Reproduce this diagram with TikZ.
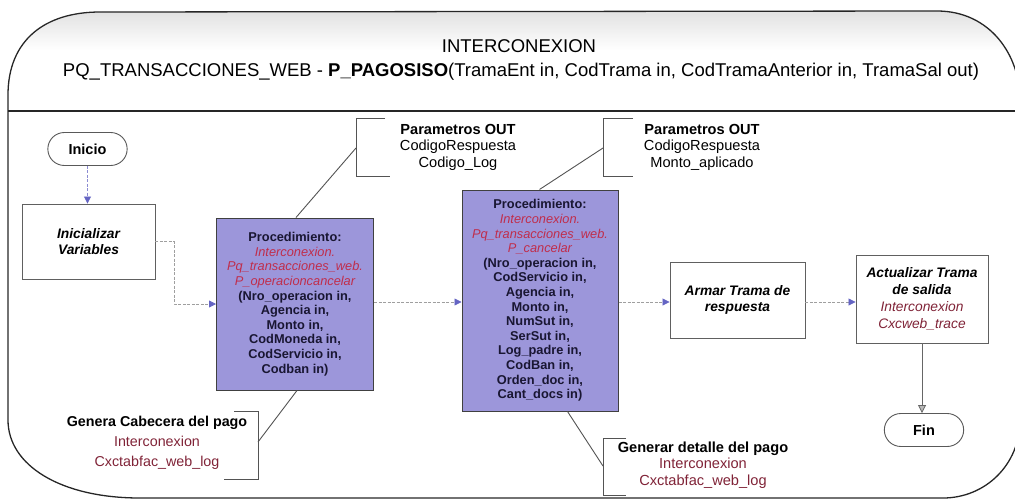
\documentclass[tikz,border=0pt]{standalone}
\usepackage{fontspec}
\setmainfont{Liberation Sans}
\usetikzlibrary{arrows.meta,shapes.misc,shadows}
\definecolor{pfill}{RGB}{156,150,218}
\definecolor{pred}{RGB}{192,45,75}
\definecolor{maroonc}{RGB}{128,35,55}
\definecolor{ptext}{RGB}{25,22,50}
\definecolor{arrc}{RGB}{100,100,195}
\newcommand\fsTitle{\fontsize{18.5}{22}\selectfont}
\newcommand\fsP{\fontsize{12.8}{14.6}\selectfont}
\newcommand\fsC{\fontsize{14.6}{16.5}\selectfont}
\newcommand\fsB{\fontsize{13.8}{16.8}\selectfont}
\begin{document}
\begin{tikzpicture}[x=1pt,y=-1pt,
 framel/.style={draw=black!85,line width=1.3pt},
 wbox/.style={draw=gray!75!black,line width=0.9pt,fill=white,inner sep=2pt,align=center,font=\fsB\bfseries\itshape,drop shadow={shadow xshift=1.3pt,shadow yshift=-1.3pt,fill=gray!55,opacity=1}},
 term/.style={rounded rectangle,draw=gray!70!black,line width=0.9pt,fill=white,minimum width=86pt,minimum height=33pt,font=\fontsize{14.5}{16}\selectfont\bfseries},
 pbox/.style={draw=gray!50!black,line width=1pt,fill=pfill,align=center,inner sep=0pt,text=ptext,font=\fsP\bfseries},
 ctext/.style={align=center,inner sep=0pt,font=\fsC},
 brk/.style={draw=gray!65!black,line width=0.9pt},
 dconn/.style={draw=gray!75,line width=0.8pt,dash pattern=on 3pt off 1.5pt},
 arr/.style={-{Triangle[length=7pt,width=7pt,color=arrc]}},
 sconn/.style={draw=gray!80!black,line width=0.8pt,-{Triangle[length=8pt,width=8pt,fill=gray!55,color=gray!80!black]}}
]
\useasboundingbox (0,0) rectangle (1015,501);
% top shading
\begin{scope}
\clip (8,111) -- (8,95) .. controls (8,40) and (45,12) .. (100,12) -- (937,11) .. controls (990,11) and (1020,55) .. (1020,100) -- (1020,111) -- cycle;
\shade[top color=gray!30,bottom color=white] (0,0) rectangle (1020,50);
\end{scope}
% frame
\draw[framel] (8,420) -- (8,95) .. controls (8,40) and (45,12) .. (100,12) -- (937,11) .. controls (990,11) and (1020,55) .. (1020,100) -- (1020,420) .. controls (1020,465) and (985,498) .. (943,498) -- (140,498) .. controls (60,498) and (8,465) .. (8,420);
\draw[framel,line width=1.1pt] (8,111) -- (1015,111);
% title
\node[font=\fsTitle] (t1) at (519,46) {INTERCONEXION};
\node[font=\fsTitle] (t2) at (521,72) {PQ\_TRANSACCIONES\_WEB - \textbf{P\_PAGOSISO}(TramaEnt in, CodTrama in, CodTramaAnterior in, TramaSal out)};
% nodes
\node[term] (inicio) at (87.5,149) {Inicio};
\node[wbox,minimum width=133pt,minimum height=75pt] (ini) at (88.5,241.5) {Inicializar\\Variables};
\node[pbox,minimum width=157pt,minimum height=172pt] (p1) at (295,304) {Procedimiento:\\{\color{pred}\mdseries\itshape Interconexion.}\\{\color{pred}\mdseries\itshape Pq\_transacciones\_web.}\\{\color{pred}\mdseries\itshape P\_operacioncancelar}\\(Nro\_operacion in,\\Agencia in,\\Monto in,\\CodMoneda in,\\CodServicio in,\\Codban in)};
\node[pbox,minimum width=156pt,minimum height=221pt] (p2) at (540,300.5) {Procedimiento:\\{\color{pred}\mdseries\itshape Interconexion.}\\{\color{pred}\mdseries\itshape Pq\_transacciones\_web.}\\{\color{pred}\mdseries\itshape P\_cancelar}\\(Nro\_operacion in,\\CodServicio in,\\Agencia in,\\Monto in,\\NumSut in,\\SerSut in,\\Log\_padre in,\\CodBan in,\\Orden\_doc in,\\Cant\_docs in)};
\node[wbox,minimum width=135pt,minimum height=76pt] (armar) at (737.5,300) {Armar Trama de\\respuesta};
\node[wbox,minimum width=132pt,minimum height=88pt] (act) at (922,299) {Actualizar Trama\\de salida\\{\color{maroonc}\mdseries Interconexion}\\{\color{maroonc}\mdseries Cxcweb\_trace}};
\node[term] (fin) at (924,430) {Fin};
% callouts
\node[ctext] (c1) at (458,147) {\textbf{Parametros OUT}\\CodigoRespuesta\\Codigo\_Log};
\draw[brk] (385,118) -- (356,118) -- (356,176) -- (390,176);
\coordinate (c1a) at (356,148);
\path (p1.north west) ++(80,0) coordinate (p1t);
\draw[brk] (c1a) -- (p1t);
\node[ctext] (c2) at (702,147) {\textbf{Parametros OUT}\\CodigoRespuesta\\Monto\_aplicado};
\draw[brk] (633,118) -- (603,118) -- (603,176) -- (633,176);
\coordinate (c2a) at (603,148);
\path (p2.north west) ++(78,0) coordinate (p2t);
\draw[brk] (c2a) -- (p2t);
\node[ctext,font=\fontsize{14.3}{20}\selectfont] (c3) at (157,443) {\textbf{Genera Cabecera del pago}\\{\color{maroonc}Interconexion}\\{\color{maroonc}Cxctabfac\_web\_log}};
\draw[brk] (234,411) -- (258,411) -- (258,479) -- (224,479);
\coordinate (c3a) at (258,442);
\path (p1.south west) ++(81,0) coordinate (p1b);
\draw[brk] (c3a) -- (p1b);
\node[ctext] (c4) at (703,465) {\textbf{Generar detalle del pago}\\{\color{maroonc}Interconexion}\\{\color{maroonc}Cxctabfac\_web\_log}};
\draw[brk] (626,438) -- (603,438) -- (603,495) -- (626,495);
\coordinate (c4a) at (603,466);
\path (p2.south west) ++(106,0) coordinate (p2b);
\draw[brk] (c4a) -- (p2b);
% connectors
\coordinate (h) at (0,302);
\draw[dconn,draw=arrc!75,arr] (inicio.south) -- (inicio.south |- ini.north);
\draw[dconn,arr] (ini.east) -- ++(19,0) |- (p1.west);
\draw[dconn,arr] (p1.east |- h) -- (p2.west |- h);
\draw[dconn,arr] (p2.east |- h) -- (armar.west |- h);
\draw[dconn,arr] (armar.east |- h) -- (act.west |- h);
\draw[sconn] (act.south) -- (act.south |- fin.north);
\end{tikzpicture}
\end{document}
